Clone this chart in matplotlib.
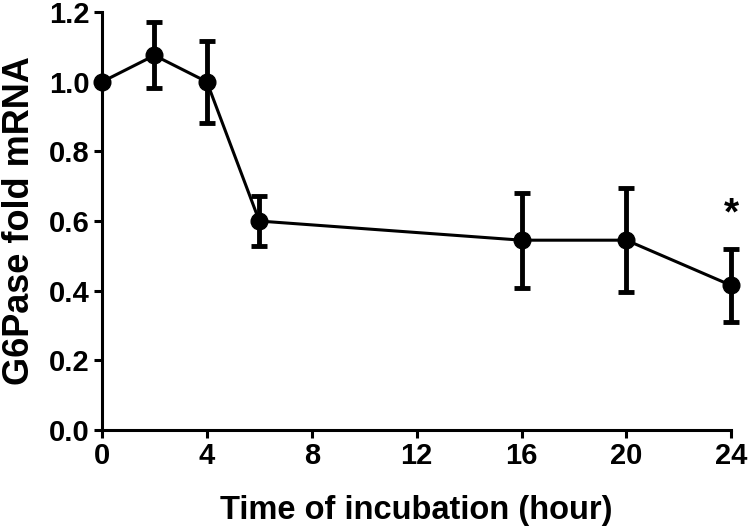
import matplotlib
matplotlib.use("Agg")
import matplotlib.pyplot as plt

# G6Pase fold mRNA over incubation time
hours = [0, 2, 4, 6, 16, 20, 24]
fold_mrna = [1.0, 1.076, 1.0, 0.60, 0.545, 0.545, 0.415]
sem = [0.0, 0.095, 0.118, 0.072, 0.137, 0.150, 0.104]
x_ticks = [0, 4, 8, 12, 16, 20, 24]
y_ticks = [0.0, 0.2, 0.4, 0.6, 0.8, 1.0, 1.2]

plt.rcParams['font.family'] = ['Liberation Sans', 'DejaVu Sans']
plt.rcParams['font.weight'] = 'bold'

fig = plt.figure(figsize=(7.5, 5.32), dpi=100)
ax = fig.add_axes([0.136, 0.192, 0.839, 0.785])

ax.errorbar(hours, fold_mrna, yerr=sem, fmt='o-', color='black',
            linewidth=2.2, markersize=12, elinewidth=3.5,
            capsize=6, capthick=3.5, clip_on=False, zorder=3)

ax.text(hours[-1], 0.62, '*', ha='center', va='center', fontsize=28,
        fontweight='bold')

ax.set_xlim(0, 24)
ax.set_ylim(0, 1.2)
ax.set_xticks(x_ticks)
ax.set_yticks(y_ticks)
ax.set_yticklabels([f"{v:.1f}" for v in y_ticks])

for side in ['top', 'right']:
    ax.spines[side].set_visible(False)
for side in ['left', 'bottom']:
    ax.spines[side].set_linewidth(2.2)

ax.tick_params(direction='out', length=6, width=2.2, labelsize=21, pad=3)
ax.set_xlabel("Time of incubation (hour)", fontsize=23.5, fontweight='bold')
ax.set_ylabel("G6Pase fold mRNA", fontsize=26, fontweight='bold')
ax.xaxis.set_label_coords(0.5, -0.155)
ax.yaxis.set_label_coords(-0.103, 0.5)

fig.savefig("out.png", dpi=100)
